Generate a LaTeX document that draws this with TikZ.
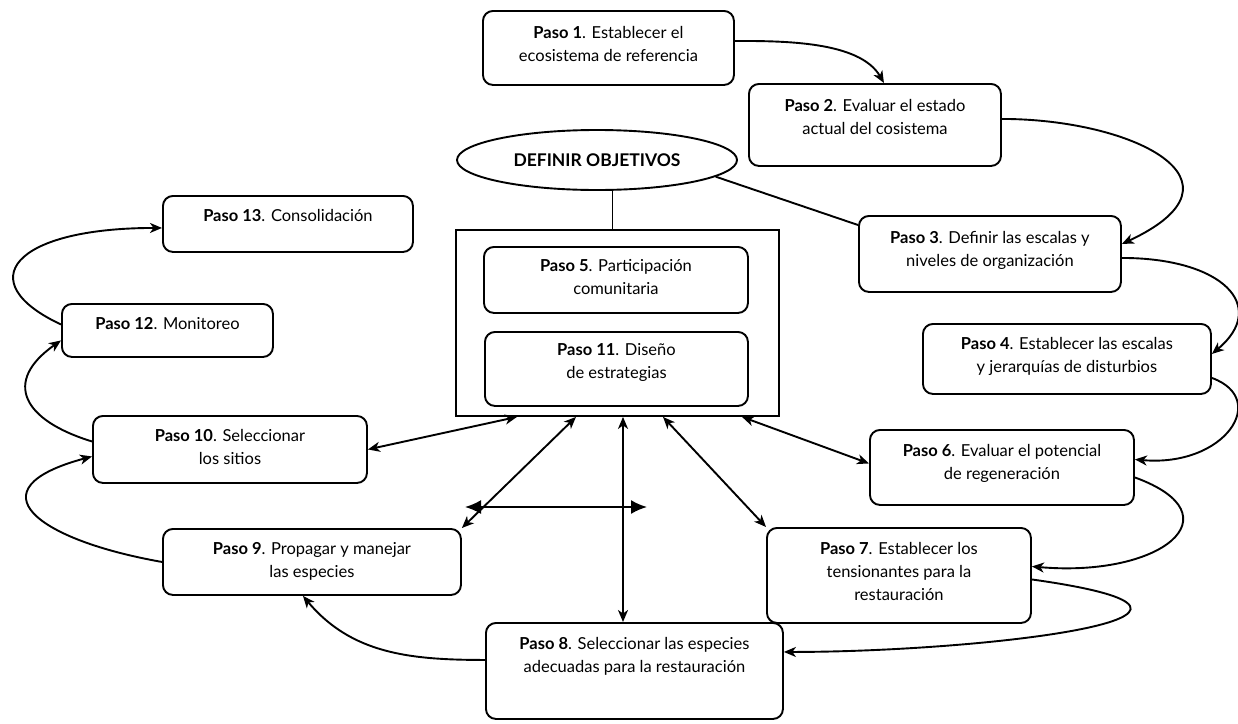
\documentclass[tikz,border=0pt]{standalone}
\usepackage{fontspec}
\setmainfont{Lato}
\usetikzlibrary{arrows.meta,shapes.geometric,positioning}

\begin{document}
\begin{tikzpicture}[x=1pt,y=1pt,line width=1.9pt,
  paso/.style={draw=black,rounded corners=10pt,anchor=north west,inner sep=0pt},
  txt/.style={align=center,anchor=north,inner sep=0pt,font=\fontsize{16.5pt}{23pt}\selectfont},
  flow/.style={-{Stealth[length=12pt,width=10pt,inset=3.5pt]}},
  both/.style={{Stealth[length=12pt,width=10pt,inset=3.5pt]}-{Stealth[length=12pt,width=10pt,inset=3.5pt]}}]
\useasboundingbox (0,0) rectangle (1238,-723);
% frame round steps 5 and 11
\node[draw=black,anchor=north west,minimum width=323pt,minimum height=186pt] (frame) at (455,-229) {};
\node[draw=black,ellipse,minimum width=280pt,minimum height=60pt,font=\fontsize{17.5pt}{20pt}\selectfont\bfseries] (goal) at (597,-160) {DEFINIR OBJETIVOS};
% steps
\node[paso,minimum width=251pt,minimum height=74pt] (p1) at (482,-10) {};
\node[paso,minimum width=252pt,minimum height=82pt] (p2) at (748,-83) {};
\node[paso,minimum width=262pt,minimum height=76pt] (p3) at (858,-215) {};
\node[paso,minimum width=288pt,minimum height=70pt] (p4) at (922,-323) {};
\node[paso,minimum width=264pt,minimum height=66pt] (p5) at (483,-246) {};
\node[paso,minimum width=264pt,minimum height=75pt] (p6) at (869,-429) {};
\node[paso,minimum width=264pt,minimum height=95pt] (p7) at (766,-527) {};
\node[paso,minimum width=297pt,minimum height=96pt] (p8) at (485,-622) {};
\node[paso,minimum width=298pt,minimum height=66pt] (p9) at (162,-528) {};
\node[paso,minimum width=274pt,minimum height=67pt] (p10) at (92,-415) {};
\node[paso,minimum width=263pt,minimum height=74pt] (p11) at (484,-331) {};
\node[paso,minimum width=211pt,minimum height=53pt] (p12) at (61,-303) {};
\node[paso,minimum width=250pt,minimum height=56pt] (p13) at (162,-195) {};
% texts
\node[txt] (t1) at ([yshift=-15pt]p1.north) {\textbf{Paso 1}. Establecer el\\ecosistema de referencia};
\node[txt] (t2) at ([yshift=-15pt]p2.north) {\textbf{Paso 2}. Evaluar el estado\\actual del cosistema};
\node[txt] (t3) at ([yshift=-15pt]p3.north) {\textbf{Paso 3}. Definir las escalas y\\niveles de organización};
\node[txt] (t4) at ([yshift=-13pt]p4.north) {\textbf{Paso 4}. Establecer las escalas\\y jerarquías de disturbios};
\node[txt] (t5) at ([yshift=-12pt]p5.north) {\textbf{Paso 5}. Participación\\comunitaria};
\node[txt] (t6) at ([yshift=-14pt]p6.north) {\textbf{Paso 6}. Evaluar el potencial\\de regeneración};
\node[txt] (t7) at ([yshift=-14pt]p7.north) {\textbf{Paso 7}. Establecer los\\tensionantes para la\\restauración};
\node[txt] (t8) at ([yshift=-14pt]p8.north) {\textbf{Paso 8}. Seleccionar las especies\\adecuadas para la restauración};
\node[txt] (t9) at ([yshift=-13pt]p9.north) {\textbf{Paso 9}. Propagar y manejar\\las especies};
\node[txt] (t10) at ([yshift=-13pt]p10.north) {\textbf{Paso 10}. Seleccionar\\los sitios};
\node[txt] (t11) at ([yshift=-12pt]p11.north) {\textbf{Paso 11}. Diseño\\de estrategias};
\node[txt] (t12) at ([yshift=-13pt]p12.north) {\textbf{Paso 12}. Monitoreo};
\node[txt] (t13) at ([yshift=-13pt]p13.north) {\textbf{Paso 13}. Consolidación};
% plain lines
\draw ([xshift=-5pt]frame.north) -- ([xshift=-5pt]frame.north |- goal.south);
\draw (goal.-8) -- ([yshift=-10pt]p3.north west);
% the sequence of steps
\draw[flow] ([yshift=7pt]p1.east) to[out=0,in=120,looseness=0.8] ([xshift=9pt]p2.north);
\draw[flow] ([yshift=6pt]p2.east) to[out=0,in=25,out distance=130pt,in distance=150pt] ([yshift=10pt]p3.east);
\draw[flow] ([yshift=-4pt]p3.east) to[out=0,in=40,out distance=100pt,in distance=75pt] ([yshift=5pt]p4.east);
\draw[flow] ([yshift=-19pt]p4.east) to[out=-20,in=-5,out distance=62pt,in distance=90pt] ([yshift=8pt]p6.east);
\draw[flow] ([yshift=-10pt]p6.east) to[out=-20,in=-5,out distance=110pt,in distance=130pt] ([yshift=9pt]p7.east);
\draw[flow] ([yshift=-4pt]p7.east) to[out=-8,in=0,out distance=260pt,in distance=200pt] ([yshift=19pt]p8.east);
\draw[flow] ([yshift=11pt]p8.west) to[out=180,in=-50] ([xshift=-9pt]p9.south);
\draw[flow] (p9.west) to[out=170,in=-165,out distance=128pt,in distance=125pt] ([yshift=-7pt]p10.west);
\draw[flow] ([yshift=8pt]p10.west) to[out=163,in=-145,out distance=72pt,in distance=72pt] ([yshift=-10pt]p12.west);
\draw[flow] ([yshift=6pt]p12.west) to[out=155,in=180,out distance=100pt,in distance=150pt] ([yshift=-4pt]p13.west);
% links with the frame
\draw[both] ([xshift=62pt]frame.south west) -- (p10.east);
\draw[both] ([xshift=121pt]frame.south west) -- (p9.north east);
\draw[both] ([xshift=168pt]frame.south west) -- ([xshift=168pt]frame.south west |- p8.north);
\draw[both] ([xshift=208pt]frame.south west) -- (p7.north west);
\draw[both] ([xshift=287pt]frame.south west) -- ([yshift=4pt]p6.west);
\coordinate (hl) at (465,-507);
\coordinate (hr) at (647,-507);
\draw[{Latex[length=16pt,width=14pt]}-{Latex[length=16pt,width=14pt]}] (hl) -- (hr);
\end{tikzpicture}
\end{document}
